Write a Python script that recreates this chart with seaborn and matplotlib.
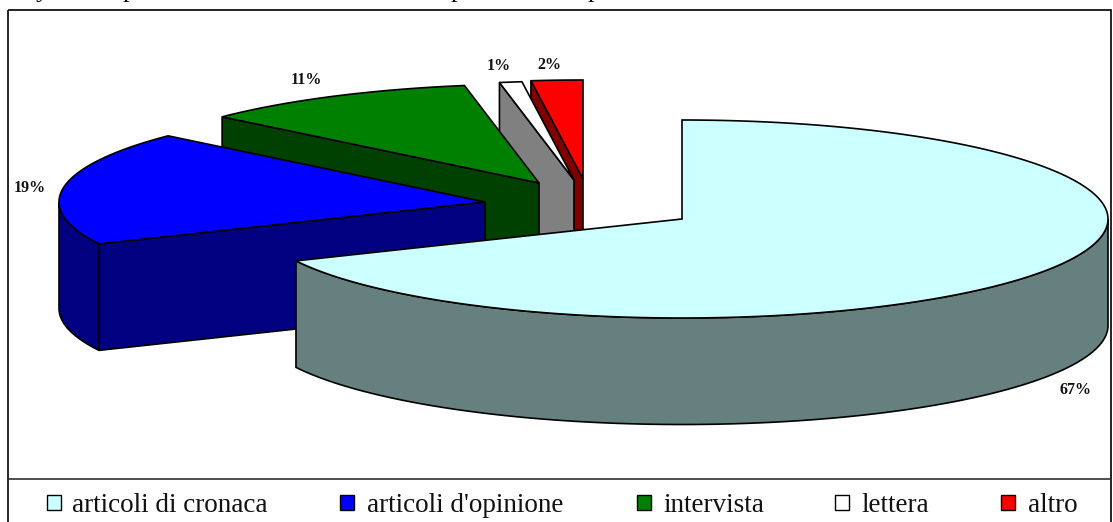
import numpy as np
import matplotlib
matplotlib.use('Agg')
import matplotlib.pyplot as plt
from matplotlib.patches import Polygon, Rectangle
import seaborn as sns

categories = ["articoli di cronaca", "articoli d'opinione", "intervista", "lettera", "altro"]
values = [68.05, 18.6, 10.55, 0.85, 1.95]
pct_labels = ["67%", "19%", "11%", "1%", "2%"]

top_colors = ["#CCFFFF", "#0000FF", "#008000", "#FFFFFF", "#FF0000"]
side_colors = ["#668080", "#000080", "#004000", "#808080", "#800000"]

# pixel layout of the exploded slices
apex_x = [682, 485, 539, 574, 583]
apex_y = [219, 202, 183, 180, 179]
label_x = [1076, 30, 306, 499, 549]
label_y = [390, 188, 80, 66, 65]
legend_box_x = [47, 340, 637, 835, 1001]
legend_text_x = [72, 367, 663, 862, 1028]
RX, RY, DEPTH = 426, 99, 106.5

W, H = 1113, 522

sns.set_theme(style="white")
plt.rcParams['font.family'] = ['Liberation Serif', 'DejaVu Serif']

fig = plt.figure(figsize=(W / 100, H / 100), dpi=100)
ax = fig.add_axes([0, 0, 1, 1])
ax.set_xlim(0, W)
ax.set_ylim(H, 0)
ax.axis('off')


def arc(cx, cy, start, end, drop=0.0):
    # angles in degrees, clockwise from 12 o'clock
    t = np.radians(np.linspace(start, end, max(int(abs(end - start) * 2), 2)))
    return np.column_stack([cx + RX * np.sin(t), cy - RY * np.cos(t) + drop])


def draw_slice(i, start, end):
    cx, cy = apex_x[i], apex_y[i]
    top, side = top_colors[i], side_colors[i]

    # cut face on the starting edge, seen only when it turns towards the viewer
    if start > 180:
        p = arc(cx, cy, start, start)[0]
        ax.add_patch(Polygon([(cx, cy), p, (p[0], p[1] + DEPTH), (cx, cy + DEPTH)],
                             fc=side, ec='black', lw=1.2, joinstyle='round'))

    # outer wall, front half of the ellipse only
    lo, hi = max(start, 90), min(end, 270)
    if hi > lo:
        wall = np.vstack([arc(cx, cy, lo, hi), arc(cx, cy, hi, lo, DEPTH)])
        ax.add_patch(Polygon(wall, fc=side, ec='black', lw=1.2))

    rim = np.vstack([[(cx, cy)], arc(cx, cy, start, end)])
    ax.add_patch(Polygon(rim, fc=top, ec='black', lw=1.2))


angles = np.concatenate([[0], np.cumsum(values) * 3.6])

# back slices first, the big front one goes on top of them
for i in [4, 3, 2, 1, 0]:
    draw_slice(i, angles[i], angles[i + 1])

for i, lab in enumerate(pct_labels):
    ax.text(label_x[i], label_y[i], lab, ha='center', va='center',
            fontsize=11.5, fontweight='bold', color='#111111')

# chart frame and legend strip
ax.add_patch(Rectangle((8, 10), 1103, 530, fc='none', ec='black', lw=1.2))
ax.plot([8, 1111], [479, 479], color='#303030', lw=1.2)

for i, name in enumerate(categories):
    ax.add_patch(Rectangle((legend_box_x[i], 495), 14, 15, fc=top_colors[i], ec='black', lw=1))
    ax.text(legend_text_x[i], 505, name, ha='left', va='center', fontsize=19.5, color='#111111')

# bottom of the line of text cut off above the chart
for x, ch in zip([42, 129, 457, 594], "yppp"):
    ax.text(x, -3, ch, ha='center', va='baseline', fontsize=19, color='black', clip_on=False)

fig.savefig("out.png", dpi=100)
plt.close(fig)
